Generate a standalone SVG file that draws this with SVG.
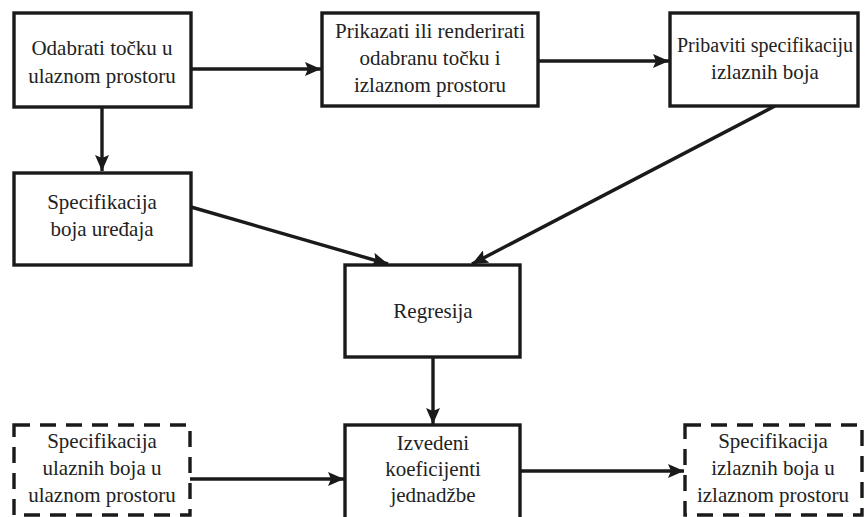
<svg xmlns="http://www.w3.org/2000/svg" width="866" height="517" viewBox="0 0 866 517">
<style>
.box{fill:#fff;stroke:#1a1a1a;stroke-width:3.4}
.dash{fill:#fff;stroke:#1a1a1a;stroke-width:3.4;stroke-dasharray:16 10}
.lbl{font-family:'Liberation Serif','Times New Roman',serif;font-size:21px;fill:#222;text-anchor:middle}
.con{stroke:#1a1a1a;stroke-width:3.4;fill:none;marker-end:url(#ah)}
</style>
<defs>
<marker id="ah" markerUnits="userSpaceOnUse" markerWidth="18" markerHeight="14" refX="16" refY="7" orient="auto">
<path d="M0,0 L16,7 L0,14 L3,7 z" fill="#1a1a1a"/>
</marker>
</defs>
<rect width="866" height="517" fill="#fff"/>
<g id="connectors">
<line class="con" x1="191" y1="69" x2="321" y2="69"/>
<line class="con" x1="538" y1="61" x2="669" y2="61"/>
<line class="con" x1="102" y1="107" x2="102" y2="171"/>
<line class="con" x1="191" y1="207" x2="388" y2="264"/>
<line class="con" x1="775" y1="106" x2="472" y2="264"/>
<line class="con" x1="433" y1="357" x2="433" y2="424"/>
<line class="con" x1="190" y1="479" x2="344" y2="479"/>
<line class="con" x1="520" y1="471" x2="684" y2="471"/>
</g>
<g id="n1">
<rect class="box" x="14" y="13" width="177" height="94"/>
<text class="lbl" x="102" y="55">Odabrati točku u</text>
<text class="lbl" x="102" y="83">ulaznom prostoru</text>
</g>
<g id="n2">
<rect class="box" x="322" y="13" width="216" height="93"/>
<text class="lbl" x="430" y="38">Prikazati ili renderirati</text>
<text class="lbl" x="430" y="65">odabranu točku i</text>
<text class="lbl" x="430" y="92">izlaznom prostoru</text>
</g>
<g id="n3">
<rect class="box" x="670" y="13" width="188" height="93"/>
<text class="lbl" x="765" y="52" style="font-size:20px">Pribaviti specifikaciju</text>
<text class="lbl" x="765" y="79">izlaznih boja</text>
</g>
<g id="n4">
<rect class="box" x="14" y="173" width="177" height="92"/>
<text class="lbl" x="102" y="209">Specifikacija</text>
<text class="lbl" x="102" y="236">boja uređaja</text>
</g>
<g id="n5">
<rect class="box" x="345" y="265" width="175" height="92"/>
<text class="lbl" x="433" y="318">Regresija</text>
</g>
<g id="n6">
<rect class="box" x="345" y="425" width="175" height="110"/>
<text class="lbl" x="433" y="450">Izvedeni</text>
<text class="lbl" x="433" y="476">koeficijenti</text>
<text class="lbl" x="433" y="502">jednadžbe</text>
</g>
<g id="n7">
<rect class="dash" x="14" y="425" width="176" height="90"/>
<text class="lbl" x="102" y="448">Specifikacija</text>
<text class="lbl" x="102" y="475">ulaznih boja u</text>
<text class="lbl" x="102" y="502">ulaznom prostoru</text>
</g>
<g id="n8">
<rect class="dash" x="685" y="425" width="177" height="90"/>
<text class="lbl" x="773" y="448">Specifikacija</text>
<text class="lbl" x="773" y="475">izlaznih boja u</text>
<text class="lbl" x="773" y="502">izlaznom prostoru</text>
</g>
</svg>
